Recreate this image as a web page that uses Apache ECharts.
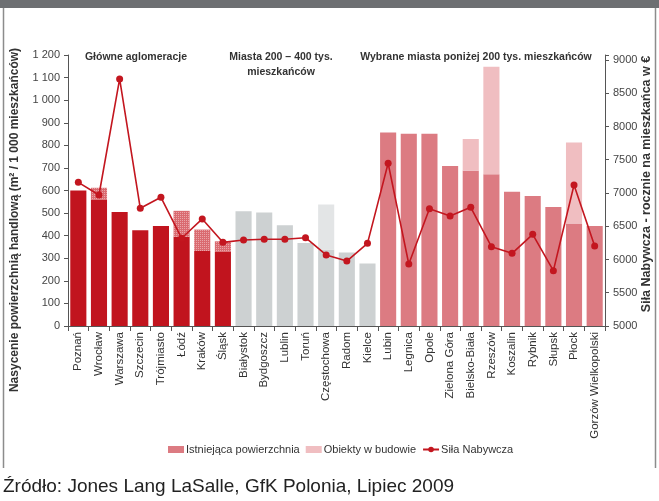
<!DOCTYPE html>
<html>
<head>
<meta charset="utf-8">
<script src="https://cdn.jsdelivr.net/npm/echarts@6/dist/echarts.min.js"></script>
<style>
  html, body { margin: 0; padding: 0; background: #ffffff; }
  #chart { width: 659px; height: 501px; }
</style>
</head>
<body>
<div id="chart"></div>
<script>
// Cities, grouped: 0 = main agglomerations, 1 = cities 200-400k, 2 = selected cities below 200k
const cities = [
  'Poznań', 'Wrocław', 'Warszawa', 'Szczecin', 'Trójmiasto', 'Łódź', 'Kraków', 'Śląsk',
  'Białystok', 'Bydgoszcz', 'Lublin', 'Toruń', 'Częstochowa', 'Radom', 'Kielce',
  'Lubin', 'Legnica', 'Opole', 'Zielona Góra', 'Bielsko-Biała', 'Rzeszów', 'Koszalin',
  'Rybnik', 'Słupsk', 'Płock', 'Gorzów Wielkopolski'
];
const cityGroup = [
  0, 0, 0, 0, 0, 0, 0, 0,
  1, 1, 1, 1, 1, 1, 1,
  2, 2, 2, 2, 2, 2, 2, 2, 2, 2, 2
];

// Existing retail space saturation (m² per 1 000 inhabitants)
const existingSpace = [
  600, 560, 505, 424, 443, 395, 332, 328,
  508, 503, 446, 368, 339, 325, 277,
  857, 851, 851, 709, 687, 672, 594, 576, 527, 454, 443
];
// Space under construction, stacked on top of the existing space
const underConstruction = [
  0, 52, 0, 0, 0, 115, 95, 47,
  0, 0, 0, 0, 199, 0, 0,
  0, 0, 0, 0, 141, 476, 0, 0, 0, 359, 0
];
// Purchasing power, EUR per inhabitant per year
const purchasingPower = [
  7160, 6970, 8715, 6770, 6935, 6320, 6610, 6258,
  6293, 6304, 6304, 6328, 6068, 5977, 6243,
  7447, 5932, 6764, 6654, 6785, 6193, 6093, 6378, 5832, 7120, 6203
];

const groupTitles = [
  ['Główne aglomeracje'],
  ['Miasta 200 – 400 tys.', 'mieszkańców'],
  ['Wybrane miasta poniżej 200 tys. mieszkańców']
];
const leftAxisName = 'Nasycenie powierzchnią handlową (m² / 1 000 mieszkańców)';
const rightAxisName = 'Siła Nabywcza - rocznie na mieszkańca w €';
const sourceNote = 'Źródło: Jones Lang LaSalle, GfK Polonia, Lipiec 2009';
const seriesNames = ['Istniejąca powierzchnia', 'Obiekty w budowie', 'Siła Nabywcza'];

const existingColors = ['#c1141e', '#cdd1d2', '#dc7b82'];
const constructionColors = ['#da6a70', '#e3e5e6', '#f0bec1'];
const lineColor = '#c3161f';
const narrowFont = "'Liberation Sans Narrow', 'Liberation Sans', Arial, sans-serif";
const baseFont = "'Liberation Sans', Arial, sans-serif";

const spaced = v => String(v).replace(/\B(?=(\d{3})+(?!\d))/g, ' ');

const existingData = existingSpace.map((v, i) => ({
  value: v,
  itemStyle: { color: existingColors[cityGroup[i]] }
}));
const constructionData = underConstruction.map((v, i) => {
  const g = cityGroup[i];
  const style = { color: constructionColors[g] };
  if (g === 0) {
    // dotted fill for projects in the main agglomerations
    style.decal = {
      symbol: 'rect',
      symbolSize: 1,
      color: 'rgba(255,255,255,0.4)',
      dashArrayX: [1, 1],
      dashArrayY: [1, 1],
      rotation: 0
    };
  }
  return { value: v || null, itemStyle: style };
});

const chart = echarts.init(document.getElementById('chart'), null, { renderer: 'canvas' });

const titleGraphics = [];
const titleCenters = [[136, 57], [281, 57], [476, 57]];
groupTitles.forEach((lines, gi) => {
  lines.forEach((t, li) => {
    titleGraphics.push({
      type: 'text',
      x: titleCenters[gi][0],
      y: titleCenters[gi][1] + li * 15,
      style: {
        text: t,
        fill: '#333333',
        font: 'bold 10.5px ' + baseFont,
        textAlign: 'center',
        textVerticalAlign: 'middle'
      }
    });
  });
});

chart.setOption({
  animation: false,
  backgroundColor: '#ffffff',
  grid: { left: 68, right: 54, top: 55, bottom: 175, containLabel: false },
  legend: {
    bottom: 41,
    left: 163,
    itemWidth: 16,
    itemHeight: 7,
    itemGap: 6,
    textStyle: { fontFamily: narrowFont, fontSize: 11, color: '#333333', padding: [0, 0, 0, -3] },
    data: [
      { name: seriesNames[0], icon: 'rect', itemStyle: { color: existingColors[2] } },
      { name: seriesNames[1], icon: 'rect', itemStyle: { color: constructionColors[2] } },
      { name: seriesNames[2] }
    ]
  },
  xAxis: {
    type: 'category',
    data: cities,
    axisLine: { lineStyle: { color: '#555555', width: 1 } },
    axisTick: { show: true, alignWithLabel: false, lineStyle: { color: '#555555' } },
    axisLabel: {
      interval: 0,
      rotate: 90,
      fontFamily: baseFont,
      fontSize: 11.5,
      color: '#333333',
      margin: 6
    }
  },
  yAxis: [
    {
      type: 'value',
      min: 0,
      max: 1200,
      interval: 100,
      splitLine: { show: false },
      axisLine: { show: true, lineStyle: { color: '#555555' } },
      axisTick: { show: true, length: 4, lineStyle: { color: '#555555' } },
      axisLabel: {
        fontFamily: narrowFont,
        fontSize: 11,
        color: '#444444',
        margin: 8,
        formatter: v => spaced(v)
      }
    },
    {
      type: 'value',
      min: 5000,
      max: 9075,
      interval: 500,
      position: 'right',
      splitLine: { show: false },
      axisLine: { show: true, lineStyle: { color: '#555555' } },
      axisTick: { show: true, length: 4, lineStyle: { color: '#555555' } },
      axisLabel: {
        fontFamily: narrowFont,
        fontSize: 11,
        color: '#444444',
        margin: 8,
        formatter: v => (v % 500 === 0 ? String(v) : '')
      }
    }
  ],
  series: [
    {
      name: seriesNames[0],
      type: 'bar',
      stack: 'space',
      barCategoryGap: '22%',
      itemStyle: { color: existingColors[2] },
      data: existingData
    },
    {
      name: seriesNames[1],
      type: 'bar',
      stack: 'space',
      barCategoryGap: '22%',
      itemStyle: { color: constructionColors[2] },
      data: constructionData
    },
    {
      name: seriesNames[2],
      type: 'line',
      yAxisIndex: 1,
      symbol: 'circle',
      symbolSize: 7,
      itemStyle: { color: lineColor },
      lineStyle: { color: lineColor, width: 1.6 },
      data: purchasingPower,
      z: 5
    }
  ],
  graphic: [
    { type: 'rect', x: 0, y: 0, shape: { width: 659, height: 8 }, style: { fill: '#6d6f72' } },
    { type: 'line', shape: { x1: 3.5, y1: 8, x2: 3.5, y2: 468 }, style: { stroke: '#8c8c8c', lineWidth: 1.5 } },
    { type: 'line', shape: { x1: 655.5, y1: 8, x2: 655.5, y2: 468 }, style: { stroke: '#8c8c8c', lineWidth: 1.5 } },
    {
      type: 'text',
      x: 15,
      y: 220,
      rotation: Math.PI / 2,
      style: {
        text: leftAxisName,
        fill: '#333333',
        font: 'bold 12px ' + narrowFont,
        textAlign: 'center',
        textVerticalAlign: 'middle'
      }
    },
    {
      type: 'text',
      x: 647,
      y: 184,
      rotation: Math.PI / 2,
      style: {
        text: rightAxisName,
        fill: '#333333',
        font: 'bold 12.5px ' + narrowFont,
        textAlign: 'center',
        textVerticalAlign: 'middle'
      }
    },
    {
      type: 'text',
      x: 3,
      y: 487,
      style: {
        text: sourceNote,
        fill: '#222222',
        font: '19px ' + baseFont,
        textAlign: 'left',
        textVerticalAlign: 'middle'
      }
    }
  ].concat(titleGraphics)
});
</script>
</body>
</html>
